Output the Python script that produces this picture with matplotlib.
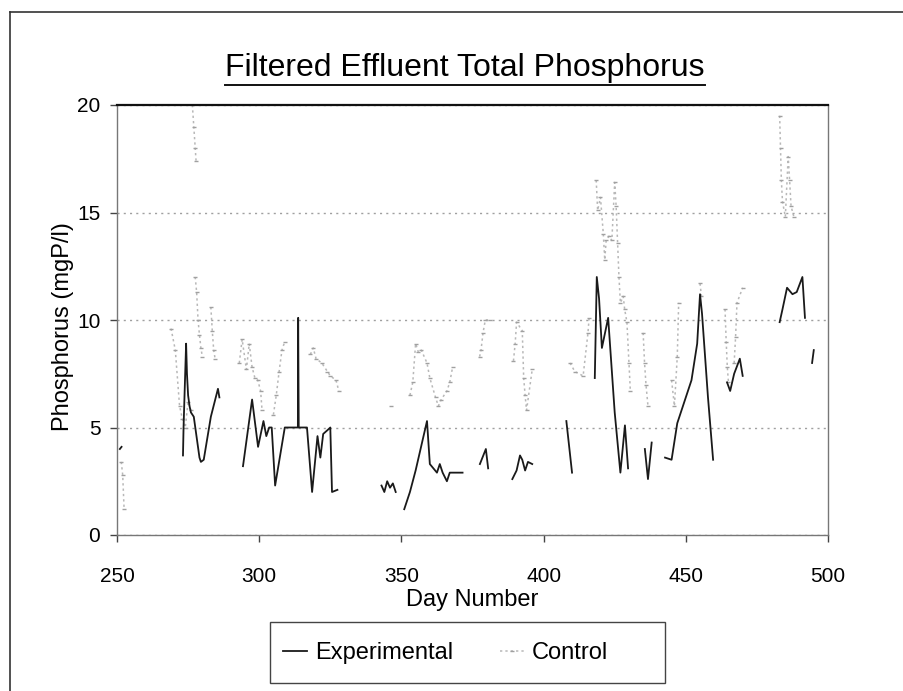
import numpy as np
import matplotlib
matplotlib.use("Agg")
import matplotlib.pyplot as plt
from matplotlib.lines import Line2D
from matplotlib.patches import Rectangle

plt.rcParams['font.family'] = ['Liberation Sans', 'DejaVu Sans']

nan = np.nan

# Experimental reactor: filtered effluent TP (mgP/l); nan marks missing samples
exp_day = [251, 251.6, nan,
           273.2, 273.4, 274.3, 274.6, 275.0, 275.5, 276.0, 277.0, 279.0, 279.5, 280.5, 283.0, 285.5, 286.0, nan,
           294.3, 297.5, 299.6, 301.5, 302.5, 303.5, 304.4, 305.6, 309.0, 313.6, 313.7, 313.9, 316.8, 318.6,
           320.5, 321.5, 322.5, 324.2, 325.0, 325.6, 327.5, nan,
           343, 344, 345, 346, 347, 348, nan,
           351, 353, 355, 359, 360, 362.5, 363.5, 364.5, 366, 367, 371.5, nan,
           377.6, 379.7, 380.5, nan,
           389, 390.5, 391.7, 392.5, 393.5, 394.5, 396, nan,
           408, 410, nan,
           418, 418.7, 419.5, 420.5, 422.7, 425, 427, 428.6, 429.7, nan,
           435.6, 436.7, 438, nan,
           442.7, 445, 447, 452, 454, 455, 455.7, 457.8, 459.6, nan,
           464.5, 465.6, 467, 469, 470, nan,
           483, 484, 485.6, 487.5, 489, 491, 491.9, nan,
           494.4, 495]
exp_tp = [4.0, 4.1, nan,
          3.7, 5.0, 8.9, 7.5, 6.5, 6.0, 5.7, 5.5, 3.6, 3.4, 3.5, 5.5, 6.8, 6.4, nan,
          3.2, 6.3, 4.1, 5.3, 4.6, 5.0, 5.0, 2.3, 5.0, 5.0, 10.1, 5.0, 5.0, 2.0,
          4.6, 3.6, 4.7, 4.9, 5.0, 2.0, 2.1, nan,
          2.3, 2.0, 2.5, 2.2, 2.4, 2.0, nan,
          1.2, 2.0, 3.0, 5.3, 3.3, 2.9, 3.3, 2.9, 2.5, 2.9, 2.9, nan,
          3.3, 4.0, 3.1, nan,
          2.6, 3.0, 3.7, 3.5, 3.0, 3.4, 3.3, nan,
          5.3, 2.9, nan,
          7.3, 12.0, 11.0, 8.7, 10.1, 5.7, 2.9, 5.1, 3.1, nan,
          4.0, 2.6, 4.3, nan,
          3.6, 3.5, 5.2, 7.2, 8.9, 11.2, 10.3, 6.4, 3.5, nan,
          7.1, 6.7, 7.5, 8.2, 7.4, nan,
          9.9, 10.5, 11.5, 11.2, 11.3, 12.0, 10.1, nan,
          8.0, 8.6]

# Control reactor: filtered effluent TP (mgP/l)
ctl_day = [251.5, 252, 252.5, nan,
           269, 270.5, 272, 273, 274, 275, 276, nan,
           276.5, 277, 277.5, 277.8, nan,
           277.5, 278, 278.5, 279, 279.5, 280, nan,
           283, 283.5, 284, 284.5, nan,
           293, 294, 295.5, 296.5, 297.5, 298.5, 299.5, 300.5, 301, nan,
           305, 306, 307, 308, 309, nan,
           318, 319, 320, 322, 324, 325, 327, 328, nan,
           346.5, nan,
           353, 354, 355, 356, 357, 359, 360, 362, 363, 364, 366, 367, 368, nan,
           377.5, 378, 378.7, 379.5, 381, nan,
           389.4, 390, 390.5, 392.5, 393, 393.5, 394, 396, nan,
           409.3, 411, 413.9, 415.6, 416, nan,
           418.5, 419, 420, 421, 421.5, 422, 423, 424, 425, 425.5, 426, 426.5, 427, 428, 428.5, 429.3, 430, 430.5, nan,
           435, 435.5, 436, 436.7, nan,
           445, 446, 447, 447.5, nan,
           455, 455.5, nan,
           463.8, 464.2, 464.6, 465, nan,
           467, 467.5, 468, 470, nan,
           483, 483.3, 483.6, 484, 485, 486, 486.5, 487, 488]
ctl_tp = [3.4, 2.8, 1.2, nan,
          9.6, 8.6, 6.0, 5.4, 5.0, 6.2, 5.8, nan,
          20.0, 19.0, 18.0, 17.4, nan,
          12.0, 11.3, 10.0, 9.3, 8.7, 8.3, nan,
          10.6, 9.5, 8.6, 8.2, nan,
          8.0, 9.1, 7.7, 8.9, 7.8, 7.3, 7.2, 6.7, 5.8, nan,
          5.6, 6.5, 7.6, 8.6, 9.0, nan,
          8.4, 8.7, 8.2, 8.0, 7.6, 7.4, 7.2, 6.7, nan,
          6.0, nan,
          6.5, 7.1, 8.9, 8.5, 8.6, 8.0, 7.3, 6.4, 6.0, 6.3, 6.7, 7.1, 7.8, nan,
          8.3, 8.6, 9.4, 10.0, 10.0, nan,
          8.1, 8.9, 9.9, 9.5, 7.3, 6.5, 5.8, 7.7, nan,
          8.0, 7.6, 7.4, 9.4, 10.1, nan,
          16.5, 15.1, 15.7, 14.0, 12.8, 13.7, 13.9, 13.7, 16.4, 15.3, 13.6, 12.0, 10.8, 11.1, 10.5, 9.9, 8.0, 6.7, nan,
          9.4, 8.0, 7.0, 6.0, nan,
          7.2, 6.0, 8.3, 10.8, nan,
          11.7, 11.1, nan,
          10.5, 9.0, 7.8, 7.1, nan,
          8.0, 9.2, 10.8, 11.5, nan,
          19.5, 18.0, 16.5, 15.5, 14.8, 17.6, 16.5, 15.3, 14.8]

x_ticks = [250, 300, 350, 400, 450, 500]
y_ticks = [0, 5, 10, 15, 20]

W, H = 904, 691
fig = plt.figure(figsize=(W / 100, H / 100), dpi=100)
fig.patch.set_facecolor('white')

# plot area in pixel terms
L, R, T, B = 117, 828, 105, 535
ax = fig.add_axes([L / W, 1 - B / H, (R - L) / W, (B - T) / H])

ax.plot(ctl_day, ctl_tp, color='#b8b8b8', lw=1.1, ls=(0, (1.5, 2)),
        marker='_', ms=3.5, mec='#a0a0a0', mew=1.0, label='Control', zorder=2)
ax.plot(exp_day, exp_tp, color='#1a1a1a', lw=1.3, label='Experimental', zorder=3)

ax.set_xlim(250, 500)
ax.set_ylim(0, 20)
ax.set_xticks(x_ticks)
ax.set_yticks(y_ticks)
ax.tick_params(axis='both', labelsize=15, length=5, width=1, color='#444444')
ax.tick_params(axis='x', pad=18)
ax.tick_params(axis='y', pad=7)
ax.yaxis.grid(True, color='#a0a0a0', ls=(0, (1.5, 3)), lw=1.0)
ax.set_axisbelow(True)

for side in ['left', 'right', 'bottom']:
    ax.spines[side].set_color('#777777')
    ax.spines[side].set_linewidth(1.0)
ax.spines['top'].set_color('#111111')
ax.spines['top'].set_linewidth(1.6)

ax.set_xlabel('Day Number', fontsize=17, labelpad=2)
ax.set_ylabel('Phosphorus (mgP/l)', fontsize=17)
ax.yaxis.set_label_coords(-0.060, 0.484)

# underlined title
title = fig.text(465 / W, 1 - 68 / H, 'Filtered Effluent Total Phosphorus',
                 ha='center', va='center', fontsize=23)
fig.canvas.draw()
bb = title.get_window_extent()
fig.add_artist(Line2D([bb.x0 / W, bb.x1 / W], [(bb.y0 - 2) / H, (bb.y0 - 2) / H],
                      color='#111111', lw=1.4))

# chart area border (top and left edges)
fig.add_artist(Line2D([10 / W, 1.0], [1 - 12 / H, 1 - 12 / H], color='#333333', lw=1.2))
fig.add_artist(Line2D([10 / W, 10 / W], [0, 1 - 12 / H], color='#333333', lw=1.2))

# legend box with its entries
fig.add_artist(Rectangle((270 / W, 1 - 683 / H), (665 - 270) / W, (683 - 622) / H,
                         transform=fig.transFigure, facecolor='white',
                         edgecolor='#444444', lw=1.0, zorder=4))
leg = fig.legend(handles=[ax.lines[1], ax.lines[0]], labels=['Experimental', 'Control'],
                 loc='center left', bbox_to_anchor=(283 / W, 1 - 653 / H), ncol=2,
                 fontsize=17, frameon=False, borderpad=0, borderaxespad=0,
                 columnspacing=2.0, handlelength=1.0, handletextpad=0.35)
leg.set_zorder(5)

fig.savefig('out.png', dpi=100, facecolor='white')
